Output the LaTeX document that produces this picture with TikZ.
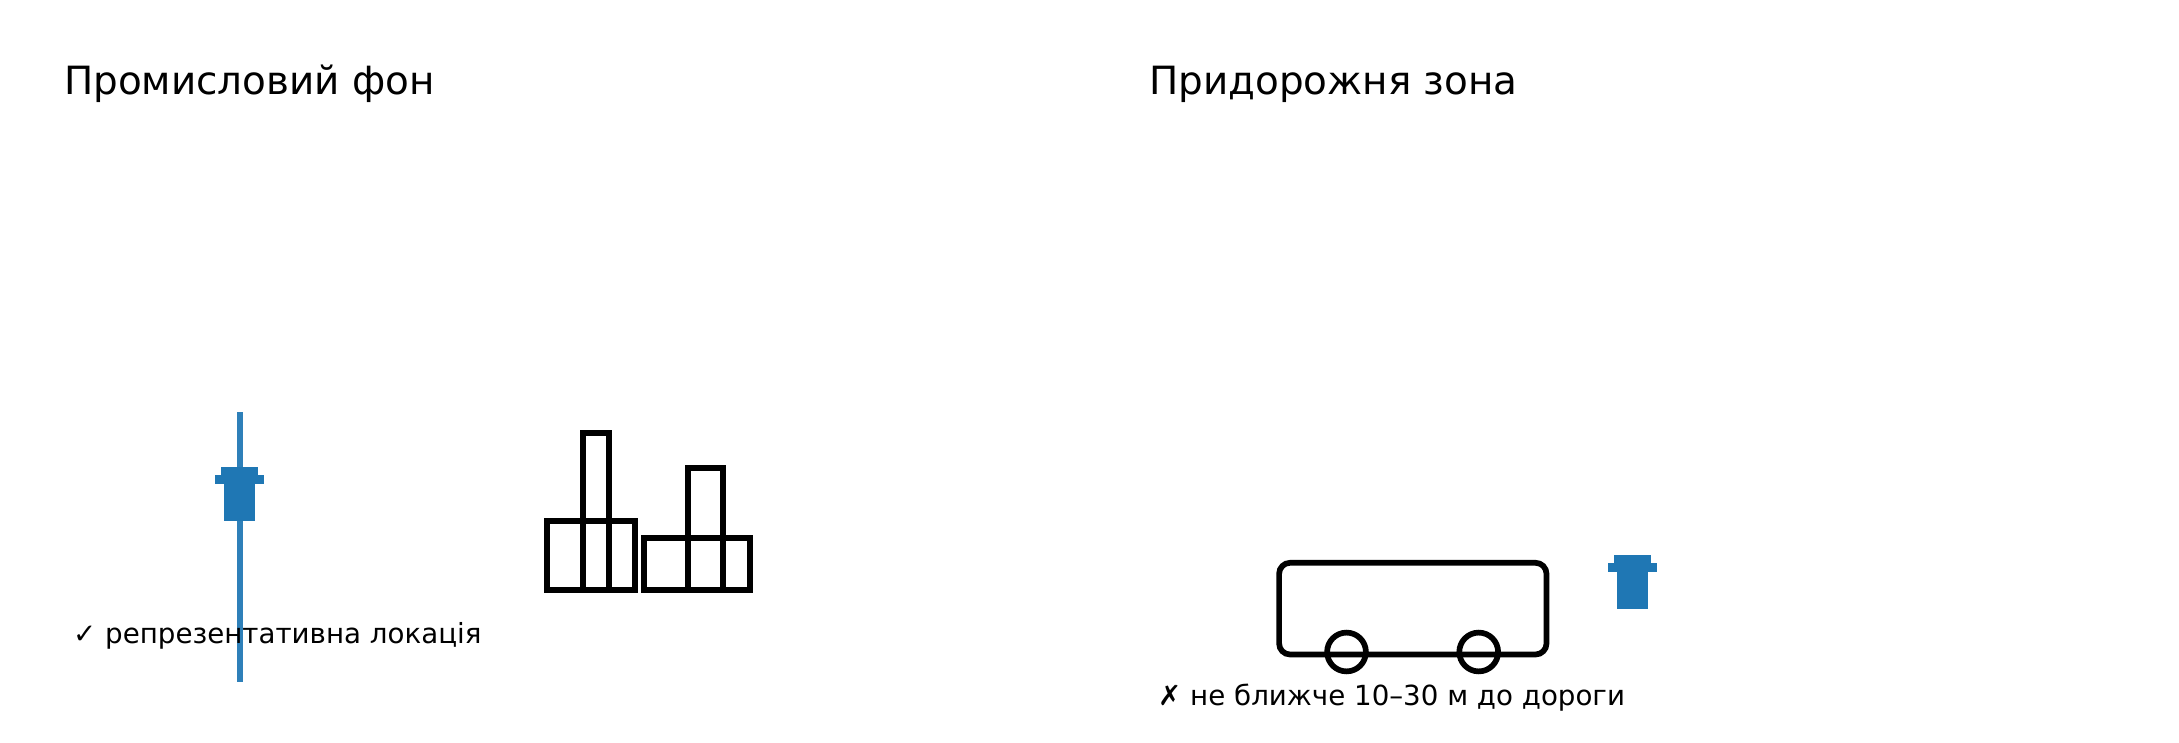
\documentclass[tikz,border=0pt]{standalone}
\usepackage{fontspec}
\setmainfont{DejaVu Sans}
\definecolor{samplerblue}{HTML}{1F77B4}
\tikzset{
  px/.style={x=1pt,y=-1pt},
  outline/.style={draw=black,line width=5.7pt,fill=none,line join=miter},
  samplerpart/.style={fill=samplerblue,draw=none},
  pole/.style={draw=samplerblue,draw opacity=0.93,line width=5.56pt},
  title/.style={anchor=base west,inner sep=0pt,font=\fontsize{38.89}{45}\selectfont},
  note/.style={anchor=base west,inner sep=0pt,font=\fontsize{27.7}{33}\selectfont}
}
\begin{document}
\begin{tikzpicture}[px]
\useasboundingbox (0,0) rectangle (2179,743);
\fill[white] (0,0) rectangle (2179,743);
\node[title] (t1) at (64,95) {Промисловий фон};
\node[title] (t2) at (1149,95) {Придорожня зона};
% left pole and sampler
\draw[pole] (240,412) -- (240,682);
\fill[samplerpart] (221,467) rectangle (258,480);
\fill[samplerpart] (215,475) rectangle (264,484);
\fill[samplerpart] (224,484) rectangle (255,521);
\node[note] (n1) at (73,643.5) {✓ репрезентативна локація};
% factory
\draw[outline] (546.8,520.8) rectangle (635,590.2);
\draw[outline] (583,432.8) rectangle (609.3,590.2);
\draw[outline] (643.8,538.2) rectangle (750,590.2);
\draw[outline] (687.8,467.8) rectangle (723,590.2);
% bus
\draw[outline,rounded corners=11pt] (1279.1,562.8) rectangle (1546.5,654.5);
\draw[outline] (1346.5,652) circle (19.4);
\draw[outline] (1478.7,652) circle (19.4);
% right sampler
\fill[samplerpart] (1614,555) rectangle (1651,568);
\fill[samplerpart] (1608,563) rectangle (1657,572);
\fill[samplerpart] (1617,572) rectangle (1648,609);
\node[note] (n2) at (1158,705.5) {✗ не ближче 10–30 м до дороги};
\end{tikzpicture}
\end{document}
